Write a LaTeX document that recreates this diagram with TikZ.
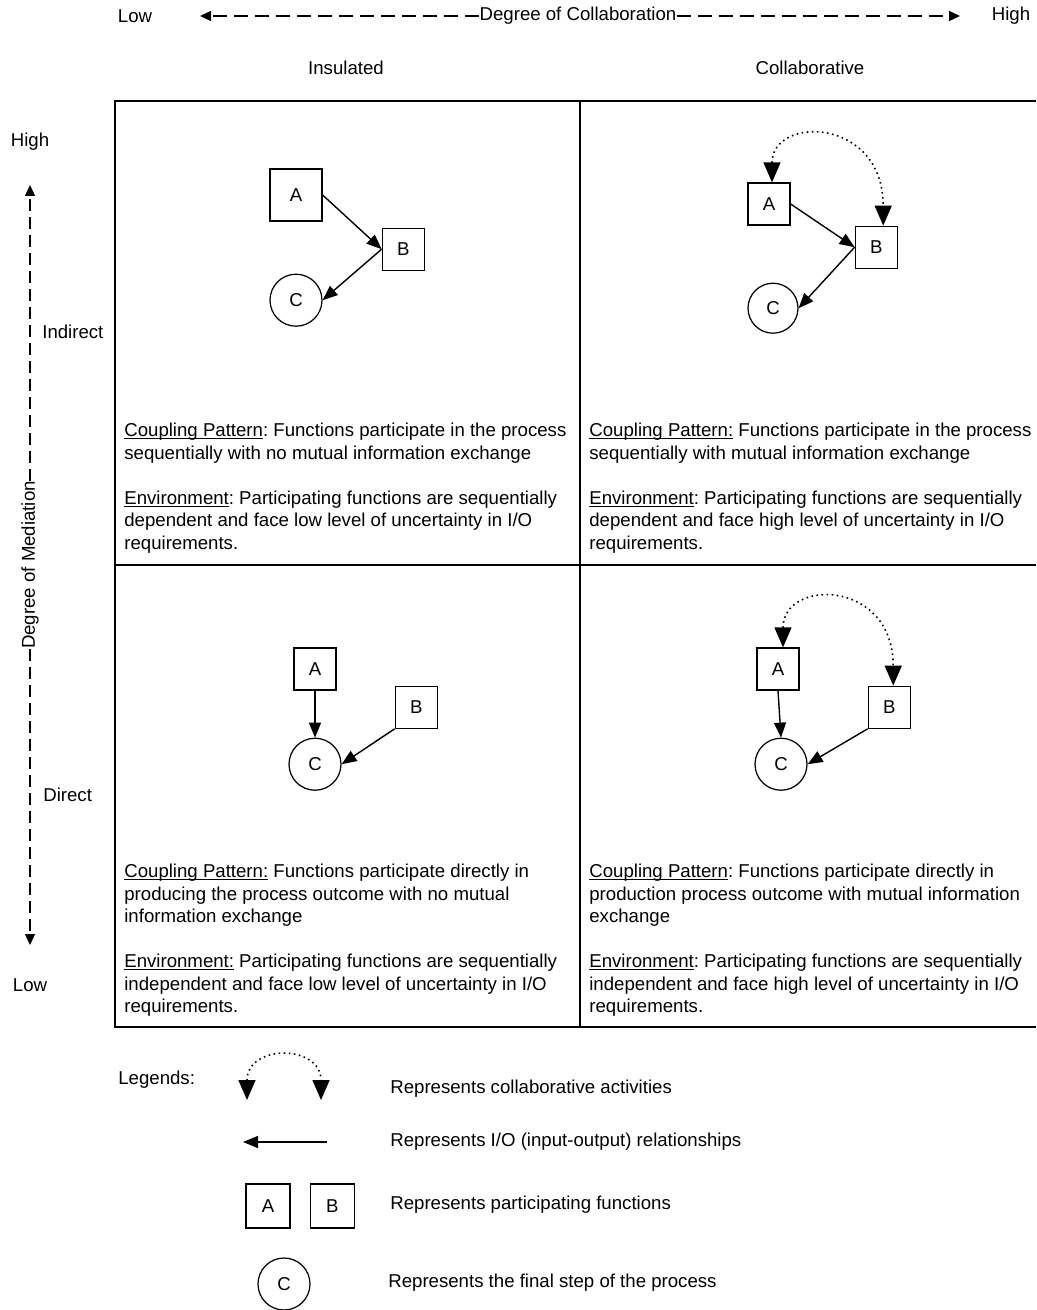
\documentclass[tikz,border=0pt]{standalone}
\usepackage{fontspec}
\setmainfont{Liberation Sans}
\usetikzlibrary{positioning,arrows.meta}

\newcommand{\hdr}[1]{\setbox0\hbox{#1}\rlap{\rule[-1.3pt]{\wd0}{0.5pt}}\box0\relax}

\tikzset{
	func/.style = {draw, line width=0.7pt, minimum size=0.84cm, inner sep=0pt},
	final/.style = {draw, circle, line width=0.7pt, minimum size=1.04cm, inner sep=0pt},
	io/.style = {line width=0.8pt, -{Triangle[length=0.3cm, width=0.24cm]}},
	collab/.style = {dotted, line width=0.9pt, {Triangle[length=0.4cm, width=0.34cm]}-{Triangle[length=0.4cm, width=0.34cm]}},
	axis/.style = {line width=0.7pt, dash pattern=on 0.28cm off 0.14cm, -{Triangle[length=0.22cm, width=0.2cm]}},
	desc/.style = {anchor=north west, align=left, inner sep=0pt},
	lbl/.style = {inner sep=0pt},
}

\begin{document}
\frenchspacing
\begin{tikzpicture}[x=0.02cm, y=-0.02cm, font=\fontsize{10.6pt}{12.8pt}\selectfont]
	\useasboundingbox (0,0) rectangle (1036,1310);
	
	\node[lbl] (lowc) at (135,16) {Low};
	\node[lbl] (highc) at (1011,16) {High};
	\node[lbl] (degc) at (578,16) {Degree of Collaboration};
	\coordinate (cleft) at (200,16);
	\coordinate (cright) at (960,16);
	\draw[axis] (degc) -- (cleft);
	\draw[axis] (degc) -- (cright);
	
	\node[lbl] (ins) at (346,68) {Insulated};
	\node[lbl] (col) at (810,68) {Collaborative};
	
	\node[lbl] (highm) at (30,142) {High};
	\node[lbl] (lowm) at (30,985) {Low};
	\node[lbl, rotate=90] (degm) at (30,565) {Degree of Mediation};
	\coordinate (mtop) at (30,185);
	\coordinate (mbot) at (30,945);
	\draw[axis, dash pattern=on 0.24cm off 0.12cm] (degm) -- (mtop);
	\draw[axis, dash pattern=on 0.24cm off 0.12cm] (degm) -- (mbot);
	\node[lbl, anchor=west] (ind) at (42,332) {Indirect};
	\node[lbl, anchor=west] (dir) at (43,795) {Direct};
	
	\draw[line width=0.8pt] (1036,101) -- (115,101) -- (115,1027) -- (1036,1027);
	\draw[line width=0.8pt] (580,101) -- (580,1027);
	\draw[line width=0.8pt] (115,565) -- (1036,565);
	
	\node[func, minimum size=1.04cm] (A1) at (296,195) {A};
	\node[func, below right = 0.12cm and 1.18cm of A1] (B1) {B};
	\node[final, below = 1.04cm of A1] (C1) {C};
	\draw[io] (A1.east) -- (B1.west);
	\draw[io] (B1.west) -- (C1.east);
	
	\node[func] (A2) at (769,204) {A};
	\node[func, below right = 0cm and 1.28cm of A2] (B2) {B};
	\node[final, minimum size=1cm, below = 1.14cm of A2, xshift=0.08cm] (C2) {C};
	\draw[io] (A2.east) -- (B2.west);
	\draw[io] (B2.west) -- (C2.east);
	\draw[collab] ([xshift=0.06cm]A2.north) .. controls +(0,-67) and +(0,-109) .. ([xshift=0.14cm]B2.north);
	
	\node[func] (A3) at (315,669) {A};
	\node[func, below right = -0.1cm and 1.16cm of A3] (B3) {B};
	\node[final, below = 0.94cm of A3] (C3) {C};
	\draw[io] (A3) -- (C3);
	\draw[io] (B3.south west) -- (C3.east);
	
	\node[func] (A4) at (778,669) {A};
	\node[func, below right = -0.1cm and 1.36cm of A4] (B4) {B};
	\node[final, below = 0.94cm of A4, xshift=0.06cm] (C4) {C};
	\draw[io] (A4.south) -- (C4.north);
	\draw[io] (B4.south west) -- (C4.east);
	\draw[collab] ([xshift=0.1cm]A4.north) .. controls +(0,-69) and +(0,-107) .. ([xshift=0.08cm]B4.north);
	
	\node[desc] (txt1) at (124,423) {\hdr{Coupling Pattern}: Functions participate in the process\\ sequentially with no mutual information exchange\\[12.8pt] \hdr{Environment}: Participating functions are sequentially\\ dependent and face low level of uncertainty in I/O\\ requirements.};
	\node[desc] (txt2) at (589,423) {\hdr{Coupling Pattern:} Functions participate in the process\\ sequentially with mutual information exchange\\[12.8pt] \hdr{Environment}: Participating functions are sequentially\\ dependent and face high level of uncertainty in I/O\\ requirements.};
	\node[desc] (txt3) at (124,864) {\hdr{Coupling Pattern:} Functions participate directly in\\ producing the process outcome with no mutual\\ information exchange\\[12.8pt] \hdr{Environment:} Participating functions are sequentially\\ independent and face low level of uncertainty in I/O\\ requirements.};
	\node[desc] (txt4) at (589,864) {\hdr{Coupling Pattern}: Functions participate directly in\\ production process outcome with mutual information\\ exchange\\[12.8pt] \hdr{Environment}: Participating functions are sequentially\\ independent and face high level of uncertainty in I/O\\ requirements.};
	
	\node[lbl, anchor=west] (leg) at (118,1080) {Legends:};
	\coordinate (cl) at (247,1100);
	\coordinate (cr) at (321,1100);
	\draw[collab] (cl) .. controls +(0,-56) and +(0,-56) .. (cr);
	\node[lbl, anchor=west] (t1) at (390,1089) {Represents collaborative activities};
	
	\coordinate (ior) at (327,1142);
	\coordinate (iol) at (243,1142);
	\draw[io] (ior) -- (iol);
	\node[lbl, anchor=west] (t2) at (390,1142) {Represents I/O (input-output) relationships};
	
	\node[func, minimum size=0.88cm] (LA) at (268,1206) {A};
	\node[func, minimum size=0.88cm, right = 0.38cm of LA] (LB) {B};
	\node[lbl, anchor=west] (t3) at (390,1205) {Represents participating functions};
	
	\node[final] (LC) at (284,1284) {C};
	\node[lbl, anchor=west] (t4) at (388,1283) {Represents the final step of the process};
\end{tikzpicture}
\end{document}
